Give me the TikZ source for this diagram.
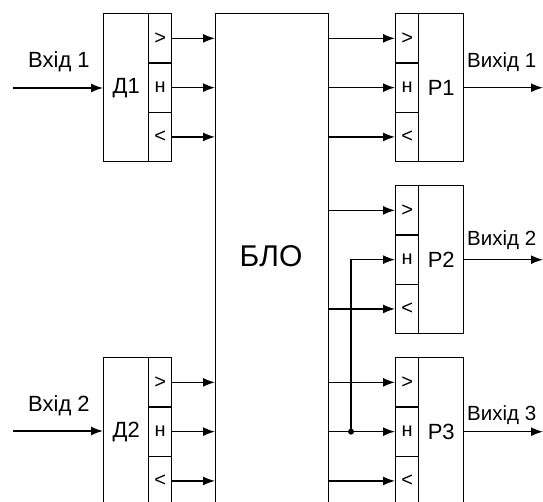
\documentclass[tikz,border=0pt]{standalone}
\usepackage{fontspec}
\setmainfont{Liberation Sans}
\usetikzlibrary{arrows.meta}
\begin{document}
\begin{tikzpicture}[x=1pt,y=-1pt,
  box/.style={draw,line width=1.4pt,rectangle,inner sep=0pt,anchor=north west,minimum width=#1},
  mainbox/.style={box=45pt,minimum height=148pt,font=\fontsize{22}{24}\selectfont},
  cell/.style={box=23pt,minimum height=49.3pt,font=\fontsize{20}{22}\selectfont},
  arr/.style={line width=1.4pt,-{Latex[length=12pt,width=9pt]}},
  lbl/.style={font=\fontsize{22}{24}\selectfont,inner sep=0pt,anchor=west},
  olbl/.style={font=\fontsize{20.5}{22}\selectfont,inner sep=0pt,anchor=west}]
\useasboundingbox (0,0) rectangle (543,502);
\clip (0,0) rectangle (543,502);
% BLO
\node[box=113pt,minimum height=500pt] (blo) at (215,13) {};
\node (blol) at (271,256) {\fontsize{30}{32}\selectfont БЛО};
% D1
\node[mainbox] (d1) at (103,13) {Д1};
\node[cell] (d1g) at (148,13) {>};
\node[cell] (d1n) at (148,62.3) {н};
\node[cell] (d1l) at (148,111.6) {<};
% D2
\node[mainbox] (d2) at (103,357) {Д2};
\node[cell] (d2g) at (148,357) {>};
\node[cell] (d2n) at (148,406.3) {н};
\node[cell] (d2l) at (148,455.6) {<};
% P1
\node[cell] (p1g) at (395,13) {>};
\node[cell] (p1n) at (395,62.3) {н};
\node[cell] (p1l) at (395,111.6) {<};
\node[mainbox] (p1) at (418,13) {Р1};
% P2
\node[cell] (p2g) at (395,185) {>};
\node[cell] (p2n) at (395,234.3) {н};
\node[cell] (p2l) at (395,283.6) {<};
\node[mainbox] (p2) at (418,185) {Р2};
% P3
\node[cell] (p3g) at (395,357) {>};
\node[cell] (p3n) at (395,406.3) {н};
\node[cell] (p3l) at (395,455.6) {<};
\node[mainbox] (p3) at (418,357) {Р3};
% inputs
\coordinate (in1) at (13,88);
\coordinate (in2) at (13,431);
\draw[arr] (in1) -- (in1 -| d1.west);
\draw[arr] (in2) -- (in2 -| d2.west);
\node[lbl] (in1l) at (28,62) {Вхід 1};
\node[lbl] (in2l) at (28,406) {Вхід 2};
% D -> BLO
\foreach \c in {d1g,d1n,d1l,d2g,d2n,d2l}{
  \draw[arr] (\c.east) -- (\c.east -| blo.west);
}
% BLO -> P
\foreach \c in {p1g,p1n,p1l,p2g,p2l,p3g,p3n,p3l}{
  \draw[arr] (\c.west -| blo.east) -- (\c.west);
}
% junction
\coordinate (jn) at (351,0 |- p3n.west);
\draw[arr] (jn) |- (p2n.west);
\fill (jn) circle (3pt);
% outputs
\coordinate (o1) at (543,0 |- p1.east);
\coordinate (o2) at (543,0 |- p2.east);
\coordinate (o3) at (543,0 |- p3.east);
\draw[arr] (p1.east) -- (o1);
\draw[arr] (p2.east) -- (o2);
\draw[arr] (p3.east) -- (o3);
\node[olbl] (o1l) at (467,62) {Вихід 1};
\node[olbl] (o2l) at (467,240) {Вихід 2};
\node[olbl] (o3l) at (467,415) {Вихід 3};
\end{tikzpicture}
\end{document}
